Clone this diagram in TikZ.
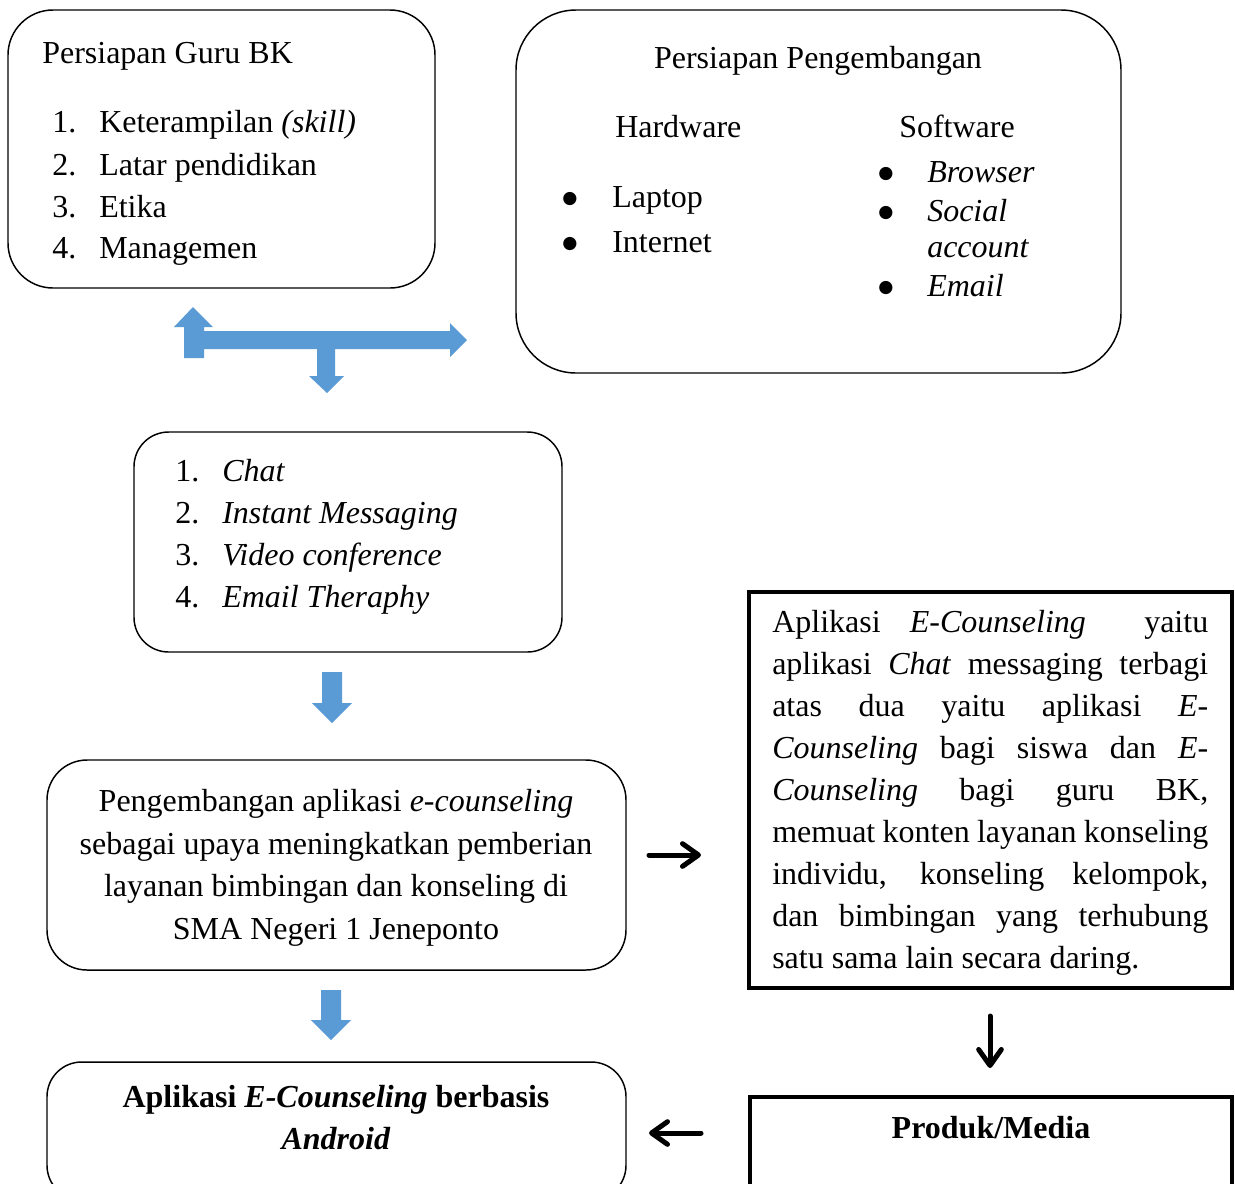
\documentclass[tikz,border=0pt]{standalone}
\usepackage{fontspec}
\setmainfont{Liberation Serif}
\newfontfamily\dotfont{DejaVu Sans}
\usetikzlibrary{arrows.meta,fit}
\definecolor{arrowblue}{HTML}{5B9BD5}
\begin{document}
\begin{tikzpicture}[x=0.75pt,y=-0.75pt,
  txt/.style={inner sep=0,font=\fontsize{24}{31.5}\selectfont},
  rbox/.style={draw,line width=1.1pt,inner sep=0},
  sbox/.style={draw,line width=2.5pt,inner sep=0},
  blk/.style={line width=3.75pt,line cap=round,-{Straight Barb[length=12pt,width=17pt,round]}},
  jl/.style={txt,anchor=base west},
  bul/.style={inner sep=0,anchor=center,font=\dotfont\fontsize{13}{13}\selectfont},
]
\useasboundingbox (0,0) rectangle (1235,1183);
\clip (0,0) rectangle (1235,1183);
\fill[white] (0,0) rectangle (1235,1183);

% boxes
\node[rbox,rounded corners=33.75pt,fit={(8,10) (435,288)}] (guru) {};
\node[rbox,rounded corners=45pt,fit={(516,10) (1121,373)}] (dev) {};
\node[rbox,rounded corners=26pt,fit={(134,432) (562,652)}] (media) {};
\node[rbox,rounded corners=30pt,fit={(47,760) (626,970)}] (peng) {};
\node[sbox,fit={(749,592) (1232,988)}] (desc) {};
\node[rbox,rounded corners=26pt,fit={(47,1062) (626,1200)}] (app) {};
\node[sbox,fit={(750,1097) (1232,1230)}] (prod) {};

% box A text
\node[jl] (guruT) at (42,63) {Persiapan Guru BK};
\node[jl] (g1n) at (52,132) {1.};
\node[jl] (g1) at (99,132) {Keterampilan \textit{(skill)}};
\node[jl] (g2n) at (52,175) {2.};
\node[jl] (g2) at (99,175) {Latar pendidikan};
\node[jl] (g3n) at (52,217) {3.};
\node[jl] (g3) at (99,217) {Etika};
\node[jl] (g4n) at (52,258) {4.};
\node[jl] (g4) at (99,258) {Managemen};

% box B text
\node[txt,anchor=base] (devT) at (818,68) {Persiapan Pengembangan};
\node[jl] (hw) at (615,137) {Hardware};
\node[jl] (sw) at (899,137) {Software};
\node[bul] (hb1) at (570,199) {●};
\node[jl] (h1) at (612,207) {Laptop};
\node[bul] (hb2) at (570,244) {●};
\node[jl] (h2) at (612,252) {Internet};
\node[bul] (sb1) at (886,174) {●};
\node[jl] (s1) at (927,182) {\textit{Browser}};
\node[bul] (sb2) at (886,213) {●};
\node[jl] (s2) at (927,221) {\textit{Social}};
\node[jl] (s2b) at (927,257) {\textit{account}};
\node[bul] (sb3) at (886,288) {●};
\node[jl] (s3) at (927,296) {\textit{Email}};

% box C text
\node[jl] (m1n) at (175,481) {1.};
\node[jl] (m1) at (222,481) {\textit{Chat}};
\node[jl] (m2n) at (175,523) {2.};
\node[jl] (m2) at (222,523) {\textit{Instant Messaging}};
\node[jl] (m3n) at (175,565) {3.};
\node[jl] (m3) at (222,565) {\textit{Video conference}};
\node[jl] (m4n) at (175,607) {4.};
\node[jl] (m4) at (222,607) {\textit{Email Theraphy}};

% box D text
\node[txt,anchor=base] (p1) at (336,811) {Pengembangan aplikasi \textit{e-counseling}};
\node[txt,anchor=base] (p2) at (336,854) {sebagai upaya meningkatkan pemberian};
\node[txt,anchor=base] (p3) at (336,896) {layanan bimbingan dan konseling di};
\node[txt,anchor=base] (p4) at (336,939) {SMA Negeri 1 Jeneponto};

% box E text (justified lines)
\node[jl] (d1) at (772,632) {\makebox[327pt][s]{Aplikasi \textit{E-Counseling} \ yaitu}};
\node[jl] (d2) at (772,674) {\makebox[327pt][s]{aplikasi \textit{Chat} messaging terbagi}};
\node[jl] (d3) at (772,716) {\makebox[327pt][s]{atas dua yaitu aplikasi \textit{E-}}};
\node[jl] (d4) at (772,758) {\makebox[327pt][s]{\textit{Counseling} bagi siswa dan \textit{E-}}};
\node[jl] (d5) at (772,800) {\makebox[327pt][s]{\textit{Counseling} bagi guru BK,}};
\node[jl] (d6) at (772,842) {\makebox[327pt][s]{memuat konten layanan konseling}};
\node[jl] (d7) at (772,884) {\makebox[327pt][s]{individu, konseling kelompok,}};
\node[jl] (d8) at (772,926) {\makebox[327pt][s]{dan bimbingan yang terhubung}};
\node[jl] (d9) at (772,968) {satu sama lain secara daring.};

% box F and G text
\node[txt,anchor=base] (ap1) at (336,1107) {\textbf{Aplikasi \textit{E-Counseling} berbasis}};
\node[txt,anchor=base] (ap2) at (336,1149) {\textbf{\textit{Android}}};
\node[txt,anchor=base] (pr) at (991,1138) {\textbf{Produk/Media}};

% blue arrows
\fill[arrowblue] (184,358) -- (184,327) -- (174,327) -- (193,307) -- (213,327) -- (204,327) -- (204,331) -- (450,331) -- (450,323) -- (467,340) -- (450,357) -- (450,349) -- (335,349) -- (335,376) -- (344,376) -- (327,393) -- (309,376) -- (317,376) -- (317,349) -- (204,349) -- (204,358) -- cycle;
\fill[arrowblue] (322,672) -- (342,672) -- (342,703) -- (352,703) -- (332,723) -- (312,703) -- (322,703) -- cycle;
\fill[arrowblue] (321,990) -- (341,990) -- (341,1020) -- (351,1020) -- (331,1040) -- (311,1020) -- (321,1020) -- cycle;

% black arrows
\coordinate (a1s) at (649,855);
\coordinate (a1e) at (701,855);
\coordinate (a2s) at (701,1133);
\coordinate (a2e) at (649,1133);
\coordinate (a3s) at (990,1016);
\coordinate (a3e) at (990,1068);
\draw[blk] (a1s) -- (a1e);
\draw[blk] (a2s) -- (a2e);
\draw[blk] (a3s) -- (a3e);
\end{tikzpicture}
\end{document}
